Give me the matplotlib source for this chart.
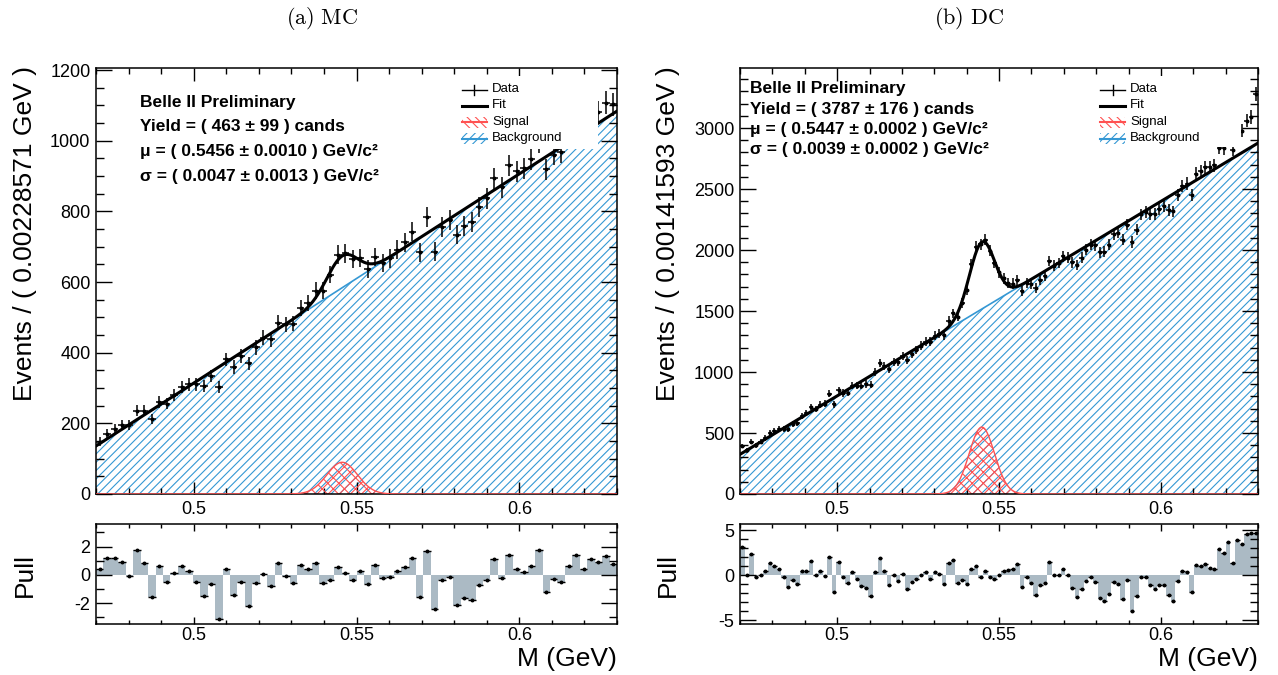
import numpy as np
import matplotlib
matplotlib.use("Agg")
import matplotlib.pyplot as plt
from matplotlib.patches import Rectangle
from matplotlib.lines import Line2D
from matplotlib.ticker import MultipleLocator, FuncFormatter

plt.rcParams["font.family"] = ["Liberation Sans", "DejaVu Sans"]
plt.rcParams["axes.unicode_minus"] = False
plt.rcParams["hatch.linewidth"] = 0.8

W, H = 1278, 675
x_lo, x_hi = 0.47, 0.63

BLUE = "#3598d4"
RED = "#ff5252"
GREY = "#abbac4"

# ---- (a) MC ----
mc_counts = [148, 171, 185, 196, 196, 236, 236, 213, 261, 256,
             281, 303, 310, 310, 305, 334, 303, 381, 359, 390,
             370, 415, 442, 438, 485, 480, 482, 527, 540, 575,
             576, 621, 678, 681, 665, 669, 636, 671, 654, 667,
             692, 713, 743, 684, 785, 686, 756, 775, 734, 759,
             770, 813, 837, 894, 868, 930, 913, 922, 948, 996,
             919, 961, 968, 1016, 1054, 1037, 1072, 1081, 1108, 1103]
mc_pulls = [0.40, 1.18, 1.18, 0.94, -0.05, 1.76, 0.82, -1.58, 0.60, -0.50,
            0.16, 0.64, 0.28, -0.50, -1.50, -0.64, -3.10, 0.40, -1.41, -0.52,
            -2.16, -0.59, 0.07, -0.75, 0.82, -0.05, -0.59, 0.73, 0.45, 0.82,
            -0.56, -0.35, 0.59, 0.12, -0.35, 0.28, -0.64, 0.73, -0.24, -0.16,
            0.28, 0.56, 1.18, -1.53, 1.72, -2.40, -0.35, -0.14, -2.10, -1.65,
            -1.74, -0.70, -0.35, 1.13, -0.20, 1.44, 0.40, 0.24, 0.66, 1.76,
            -1.18, -0.26, -0.47, 0.64, 1.39, 0.45, 1.10, 0.94, 1.36, 0.78]
mc_bkg_ends = [136, 1084]          # background at x_lo and x_hi
mc_fit = (463, 0.5456, 0.0047)     # yield, mu, sigma
mc_text = ["Belle II Preliminary",
           "Yield = ( 463 ± 99 ) cands",
           "μ = ( 0.5456 ± 0.0010 ) GeV/c²",
           "σ = ( 0.0047 ± 0.0013 ) GeV/c²"]

# ---- (b) DC ----
dc_counts = [393, 359, 427, 399, 427, 459, 500, 518, 533, 534,
             531, 571, 584, 641, 664, 715, 697, 732, 740, 822,
             736, 852, 828, 829, 888, 887, 887, 901, 896, 1002,
             1074, 1051, 1022, 1082, 1082, 1129, 1096, 1147, 1180, 1217,
             1250, 1248, 1297, 1313, 1300, 1418, 1480, 1454, 1564, 1674,
             1885, 2027, 2048, 2084, 1993, 1895, 1817, 1767, 1732, 1725,
             1751, 1664, 1727, 1723, 1688, 1755, 1791, 1911, 1872, 1895,
             1948, 1938, 1899, 1878, 1938, 2002, 2043, 2040, 1983, 1986,
             2044, 2128, 2141, 2084, 2207, 2066, 2167, 2292, 2311, 2293,
             2293, 2335, 2361, 2325, 2316, 2450, 2526, 2544, 2454, 2626,
             2644, 2678, 2680, 2695, 2837, 2833, 2920, 2823, 2980, 2978,
             3061, 3090, 3280]
dc_pulls = [3.07, 0.00, 2.33, -0.26, 0.00, 0.44, 1.30, 1.04, 0.70, -0.26,
            -1.30, -0.56, -0.96, 0.44, 0.44, 1.52, -0.04, 0.44, -0.10, 2.04,
            -1.85, 1.44, -0.19, -0.93, 0.33, -0.48, -1.19, -1.48, -2.33, 0.33,
            1.89, 0.44, -1.15, 0.00, -0.67, 0.07, -1.56, -0.74, -0.41, 0.00,
            0.30, -0.41, 0.33, 0.11, -1.00, 1.30, 1.67, -0.85, -0.56, -1.00,
            0.63, 1.00, -0.19, 0.48, -0.26, -0.41, -0.04, 0.44, 0.56, 0.70,
            1.19, -1.30, -0.26, -0.85, -2.22, -1.15, -0.85, 1.44, 0.00, 0.00,
            0.70, -0.04, -1.44, -2.40, -1.56, -0.63, -0.22, -0.78, -2.52, -2.93,
            -2.15, -0.81, -1.00, -2.70, -0.56, -4.00, -2.33, -0.19, -0.26, -1.11,
            -1.56, -1.15, -1.07, -2.26, -2.89, -0.63, 0.44, 0.33, -1.89, 1.07,
            0.96, 1.19, 0.78, 0.63, 2.93, 2.41, 3.63, 1.33, 3.89, 3.41,
            4.52, 4.63, 4.70]
dc_bkg_ends = [325, 2877]
dc_fit = (3787, 0.5447, 0.0039)
dc_text = ["Belle II Preliminary",
           "Yield = ( 3787 ± 176 ) cands",
           "μ = ( 0.5447 ± 0.0002 ) GeV/c²",
           "σ = ( 0.0039 ± 0.0002 ) GeV/c²"]


def fx(px):
    return px / W


def fy(py):
    return 1 - py / H


def px_box(l, t, r, b):
    return [l / W, 1 - b / H, (r - l) / W, (b - t) / H]


fmt = FuncFormatter(lambda v, p: f"{v:.10g}")


def style_axes(ax, ymaj, ymin, ylen, xlen, xpad=5):
    ax.xaxis.set_major_locator(MultipleLocator(0.05))
    ax.xaxis.set_minor_locator(MultipleLocator(0.01))
    ax.xaxis.set_major_formatter(fmt)
    ax.yaxis.set_major_locator(MultipleLocator(ymaj))
    ax.yaxis.set_minor_locator(MultipleLocator(ymin))
    ax.yaxis.set_major_formatter(fmt)
    ax.tick_params(which="both", direction="in", top=True, right=True,
                   labelsize=13, width=1.0)
    ax.tick_params(axis="y", which="major", length=ylen[0], pad=4)
    ax.tick_params(axis="y", which="minor", length=ylen[1])
    ax.tick_params(axis="x", which="major", length=xlen[0], pad=xpad)
    ax.tick_params(axis="x", which="minor", length=xlen[1])
    for s in ax.spines.values():
        s.set_linewidth(1.1)


def draw_main(ax, counts, bkg_ends, fit, ymax, ymaj, ymin):
    counts = np.array(counts, dtype=float)
    n = len(counts)
    bw = (x_hi - x_lo) / n
    centers = x_lo + (np.arange(n) + 0.5) * bw
    yld, mu, sigma = fit
    xf = np.linspace(x_lo, x_hi, 1200)
    bkg = bkg_ends[0] + (bkg_ends[1] - bkg_ends[0]) * (xf - x_lo) / (x_hi - x_lo)
    amp = yld * bw / (sigma * np.sqrt(2 * np.pi))
    sig = amp * np.exp(-0.5 * ((xf - mu) / sigma) ** 2)
    ax.fill_between(xf, 0, bkg, facecolor="none", edgecolor=BLUE,
                    hatch="////", linewidth=0, zorder=1)
    ax.fill_between(xf, 0, sig, facecolor="none", edgecolor=RED,
                    hatch="xxx", linewidth=0, zorder=2)
    ax.plot(xf, bkg, color=BLUE, lw=1.2, zorder=3)
    ax.plot(xf, sig, color=RED, lw=1.0, zorder=3)
    ax.plot(xf, bkg + sig, color="black", lw=2.2, zorder=4)
    ax.errorbar(centers, counts, yerr=np.sqrt(counts), xerr=bw / 2, fmt="o",
                ms=1.8, color="black", elinewidth=1.1, capsize=0, zorder=5)
    ax.set_xlim(x_lo, x_hi)
    ax.set_ylim(0, ymax)
    style_axes(ax, ymaj, ymin, (11.5, 5.8), (9, 4.5))


def draw_pull(ax, pulls, ylim, ymaj):
    pulls = np.array(pulls)
    n = len(pulls)
    bw = (x_hi - x_lo) / n
    centers = x_lo + (np.arange(n) + 0.5) * bw
    ax.bar(centers, pulls, width=bw, color=GREY, linewidth=0, zorder=1)
    ax.errorbar(centers, pulls, xerr=bw / 2, fmt="o", ms=1.8, color="black",
                elinewidth=1.0, capsize=0, zorder=3)
    ax.set_xlim(x_lo, x_hi)
    ax.set_ylim(*ylim)
    style_axes(ax, ymaj, 1, (11.5, 5.5), (5, 3), xpad=2)


def draw_legend(ax, box, sym_x, text_x, rows):
    l, t, r, b = box
    ax.add_patch(Rectangle((fx(l), fy(b)), fx(r) - fx(l), fy(t) - fy(b),
                           transform=ax.figure.transFigure, facecolor="white",
                           edgecolor="none", zorder=10))
    x0, x1 = sym_x
    tr = ax.figure.transFigure
    yd, yf, ys, yb = rows
    # Data
    ax.add_line(Line2D([fx(x0), fx(x1)], [fy(yd), fy(yd)], transform=tr,
                       color="black", lw=1.0, zorder=11))
    ax.add_line(Line2D([fx((x0 + x1) / 2)] * 2, [fy(yd - 5), fy(yd + 5)],
                       transform=tr, color="black", lw=1.0, zorder=11))
    # Fit
    ax.add_line(Line2D([fx(x0), fx(x1)], [fy(yf), fy(yf)], transform=tr,
                       color="black", lw=2.2, zorder=11))
    # Signal / Background
    for yy, col, hatch in [(ys, RED, "\\\\\\\\"), (yb, BLUE, "////")]:
        ax.add_patch(Rectangle((fx(x0), fy(yy + 5.5)), fx(x1) - fx(x0),
                               fy(yy - 5.5) - fy(yy + 5.5), transform=tr,
                               facecolor="none", edgecolor=col, hatch=hatch,
                               linewidth=0, zorder=11))
        ax.add_line(Line2D([fx(x0), fx(x1)], [fy(yy), fy(yy)], transform=tr,
                           color=col, lw=1.5, zorder=11))
    for yy, lab in zip(rows, ["Data", "Fit", "Signal", "Background"]):
        ax.figure.text(fx(text_x), fy(yy), lab, fontsize=9.5, va="center",
                       ha="left")


fig = plt.figure(figsize=(W / 100, H / 100), dpi=100)

panels = [
    dict(main=(96, 68, 617, 494), pull=(96, 524, 617, 624), counts=mc_counts,
         pulls=mc_pulls, bkg=mc_bkg_ends, fit=mc_fit, ymax=1206, ymaj=200,
         ymin=50, plim=(-3.46, 3.6), pmaj=2, text=mc_text, text_x=140,
         text_y=[107, 131.5, 156, 180.5], leg_box=(452, 76, 598, 149),
         sym_x=(462, 487), leg_tx=492, leg_rows=(89.5, 105.5, 122, 138.5),
         title=r"$\mathrm{(a)\ MC}$", title_x=322, ylab_x=25,
         ylabel="Events / ( 0.00228571 GeV )"),
    dict(main=(740, 68, 1258, 494), pull=(740, 524, 1258, 624),
         counts=dc_counts, pulls=dc_pulls, bkg=dc_bkg_ends, fit=dc_fit,
         ymax=3492, ymaj=500, ymin=100, plim=(-5.44, 5.67), pmaj=5,
         text=dc_text, text_x=750, text_y=[93.5, 113.8, 134.1, 154.4],
         leg_box=(1092, 76, 1241, 147), sym_x=(1100, 1125), leg_tx=1130,
         leg_rows=(89.5, 105.5, 122, 138.5), title=r"$\mathrm{(b)\ DC}$",
         title_x=969, ylab_x=668, ylabel="Events / ( 0.00141593 GeV )"),
]

for p in panels:
    ax = fig.add_axes(px_box(*p["main"]))
    draw_main(ax, p["counts"], p["bkg"], p["fit"], p["ymax"], p["ymaj"], p["ymin"])
    draw_legend(ax, p["leg_box"], p["sym_x"], p["leg_tx"], p["leg_rows"])
    for yy, line in zip(p["text_y"], p["text"]):
        fig.text(fx(p["text_x"]), fy(yy), line, fontsize=12.5,
                 fontweight="bold", ha="left", va="baseline")
    fig.text(fx(p["title_x"]), fy(18), p["title"], fontsize=16,
             math_fontfamily="cm", ha="center", va="center")
    fig.text(fx(p["ylab_x"]), fy(66), p["ylabel"], fontsize=19, rotation=90,
             ha="center", va="top")

    axp = fig.add_axes(px_box(*p["pull"]))
    draw_pull(axp, p["pulls"], p["plim"], p["pmaj"])
    fig.text(fx(p["ylab_x"]), fy(553), "Pull", fontsize=19, rotation=90,
             ha="center", va="top")
    fig.text(fx(p["main"][2]), fy(659), "M (GeV)", fontsize=19,
             ha="right", va="center")

fig.savefig("out.png", dpi=100)
